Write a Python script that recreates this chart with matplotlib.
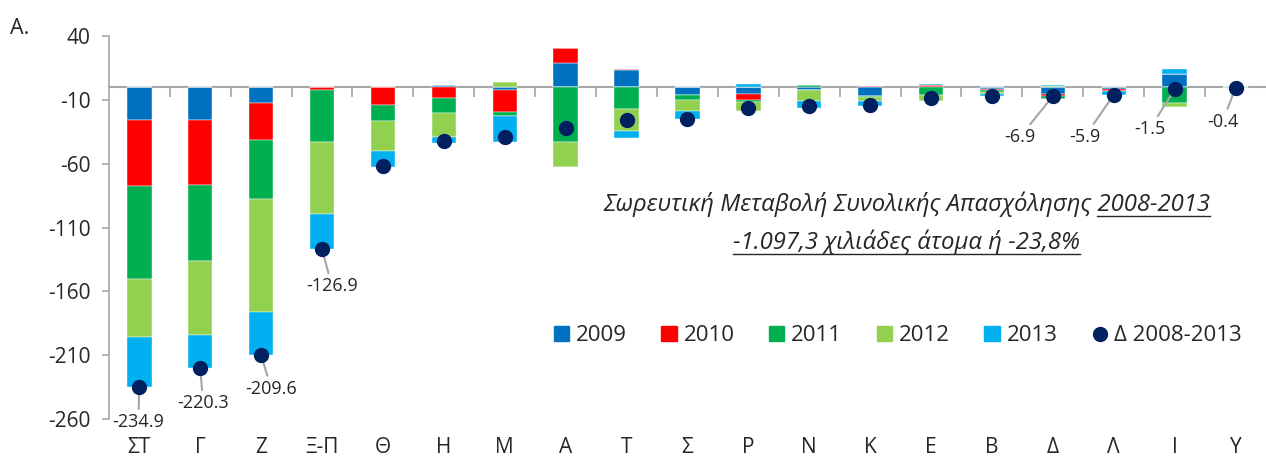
import matplotlib
matplotlib.use('Agg')
import matplotlib.pyplot as plt
import numpy as np
from matplotlib.lines import Line2D
from matplotlib.patches import Patch

plt.rcParams['font.family'] = ['Open Sans', 'DejaVu Sans']
plt.rcParams['axes.unicode_minus'] = False

categories = ['ΣΤ', 'Γ', 'Ζ', 'Ξ-Π', 'Θ', 'Η', 'Μ', 'Α', 'Τ', 'Σ',
              'Ρ', 'Ν', 'Κ', 'Ε', 'Β', 'Δ', 'Λ', 'Ι', 'Υ']
y2009 = [-26.0, -26.0, -12.5, 0.0, 0.1, 1.8, -2.1, 19.0, 13.6, -6.0,
         -5.2, -2.1, -6.5, 0.0, -1.5, -5.5, -1.2, 10.4, -0.1]
y2010 = [-51.0, -50.5, -28.5, -2.2, -13.6, -8.4, -17.0, 11.7, 0.8, 0.0,
         -4.4, 0.0, 0.8, 1.6, -1.0, -1.7, -1.6, 0.0, 0.1]
y2011 = [-73.5, -59.5, -46.7, -40.5, -12.5, -11.7, -3.4, -42.5, -17.0, -3.7,
         -1.6, 1.6, -0.8, -5.8, -1.3, -1.7, 0.0, -12.4, -0.2]
y2012 = [-45.0, -58.0, -88.5, -56.8, -23.5, -18.5, 3.9, -20.1, -17.5, -9.1,
         -7.6, -9.0, -3.4, -5.0, -1.2, 0.8, 0.0, -3.4, -0.1]
y2013 = [-39.4, -26.3, -33.4, -27.4, -12.5, -5.0, -20.6, 0.0, -5.5, -6.0,
         2.6, -5.5, -3.9, 0.8, -2.0, 1.2, -3.1, 3.9, -0.1]
total = [-234.9, -220.3, -209.6, -126.9, -62.0, -41.8, -39.2, -31.9, -25.6, -24.8,
         -16.2, -15.0, -13.8, -8.4, -7.0, -6.9, -5.9, -1.5, -0.4]

series = [('2009', y2009, '#0070C0'), ('2010', y2010, '#FF0000'),
          ('2011', y2011, '#00B050'), ('2012', y2012, '#92D050'),
          ('2013', y2013, '#00B0F0')]
dot_color = '#002060'
grey = '#A6A6A6'
txt = '#262626'

# labelled points: index -> label offset in pixels
label_offsets = {0: (-1, -35), 1: (3, -35), 2: (10, -34), 3: (10, -37),
                 15: (-33, -41), 16: (-29, -42), 17: (-25, -40), 18: (-13, -34)}

fig = plt.figure(figsize=(12.66, 4.59), dpi=100)
ax = fig.add_axes([0.086, 0.087, 0.914, 0.834])

x = np.arange(len(categories))
pos_bottom = np.zeros(len(categories))
neg_bottom = np.zeros(len(categories))
for name, vals, col in series:
    v = np.array(vals)
    pos = np.where(v > 0, v, 0)
    neg = np.where(v < 0, v, 0)
    ax.bar(x, pos, 0.4, bottom=pos_bottom, color=col, edgecolor='white', linewidth=0.3, zorder=3)
    ax.bar(x, neg, 0.4, bottom=neg_bottom, color=col, edgecolor='white', linewidth=0.3, zorder=3)
    pos_bottom += pos
    neg_bottom += neg

ax.plot(x, total, 'o', color=dot_color, markersize=10, zorder=5)

for i, (dx, dy) in label_offsets.items():
    ax.annotate(f'{total[i]:.1f}', xy=(x[i], total[i]), xytext=(dx, dy),
                textcoords='offset pixels', ha='center', va='center',
                fontsize=13, color=txt,
                arrowprops=dict(arrowstyle='-', color=grey, lw=1.5,
                                shrinkA=1, shrinkB=0), zorder=4)

ax.set_xlim(-0.5, len(categories) - 0.5)
ax.set_ylim(-260, 40)
ax.set_yticks(np.arange(-260, 41, 50))

for s in ['top', 'right']:
    ax.spines[s].set_visible(False)
ax.spines['left'].set_color(grey)
ax.spines['left'].set_linewidth(1.2)
ax.spines['bottom'].set_position(('data', 0))
ax.spines['bottom'].set_color(grey)
ax.spines['bottom'].set_linewidth(1.5)
ax.spines['bottom'].set_zorder(2)
ax.set_xticks(x[:-1] + 0.5)
ax.set_xticklabels([])
ax.tick_params(axis='x', direction='out', length=7, width=1.2, color=grey)
ax.tick_params(axis='y', direction='out', length=5, width=1.2, color=grey,
               labelsize=15, labelcolor=txt, pad=8)

sec = ax.secondary_xaxis('bottom')
sec.set_xticks(x)
sec.set_xticklabels(categories)
sec.spines['bottom'].set_visible(False)
sec.tick_params(length=0, labelsize=15, labelcolor=txt, pad=13)

fig.text(0.008, 0.925, 'A.', fontsize=15.5, color=txt)

t1 = fig.text(0.716, 0.54, 'Σωρευτική Μεταβολή Συνολικής Απασχόλησης 2008-2013',
              fontsize=17.2, style='italic', ha='center', va='baseline', color=txt)
t2 = fig.text(0.716, 0.458, '-1.097,3 χιλιάδες άτομα ή -23,8%',
              fontsize=17.2, style='italic', ha='center', va='baseline', color=txt)

fig.canvas.draw()
r = fig.canvas.get_renderer()
tmp = fig.text(0, 0, '2008-2013', fontsize=17.2, style='italic')
w_part = tmp.get_window_extent(r).width
tmp.remove()
W, H = fig.bbox.width, fig.bbox.height
b1 = t1.get_window_extent(r)
uy1 = (b1.y0 + 1) / H
fig.add_artist(Line2D([(b1.x1 - w_part) / W, b1.x1 / W], [uy1, uy1], color=txt, lw=1))
b2 = t2.get_window_extent(r)
uy2 = (b2.y0 + 1) / H
fig.add_artist(Line2D([b2.x0 / W, b2.x1 / W], [uy2, uy2], color=txt, lw=1))

handles = [Patch(color=c, label=n) for n, _, c in series]
handles.append(Line2D([], [], marker='o', linestyle='none', color=dot_color,
                      markersize=10, label='Δ 2008-2013'))
fig.legend(handles=handles, loc='center', bbox_to_anchor=(0.709, 0.268), ncol=6,
           frameon=False, fontsize=16, handlelength=0.7, handleheight=0.7,
           handletextpad=0.3, columnspacing=1.55, labelcolor=txt)

fig.savefig('out.png', dpi=100)
